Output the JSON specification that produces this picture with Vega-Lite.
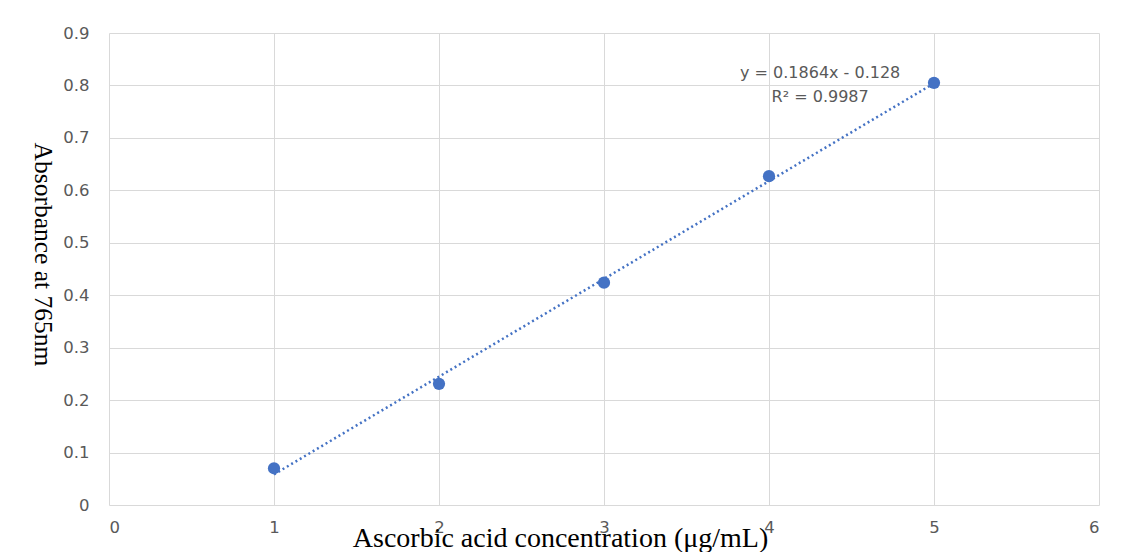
{
  "$schema": "https://vega.github.io/schema/vega-lite/v6.json",
  "width": 990,
  "height": 472,
  "autosize": {"type": "none"},
  "padding": {"left": 109, "top": 33, "right": 32, "bottom": 47},
  "background": "white",
  "config": {
    "view": {"stroke": null},
    "axis": {
      "labelFont": "DejaVu Sans",
      "labelFontSize": 16.5,
      "labelColor": "#595959",
      "gridColor": "#d9d9d9",
      "gridWidth": 1,
      "ticks": false,
      "domain": false,
      "titleFont": "Liberation Serif",
      "titleFontWeight": "normal",
      "titleColor": "#000000"
    }
  },
  "datasets": {
    "points": [
      {"conc": 1, "abs": 0.07},
      {"conc": 2, "abs": 0.231},
      {"conc": 3, "abs": 0.424},
      {"conc": 4, "abs": 0.627},
      {"conc": 5, "abs": 0.805}
    ],
    "trend": [
      {"conc": 1, "abs": 0.0584},
      {"conc": 5, "abs": 0.804}
    ],
    "labels": [
      {"conc": 4.31, "abs": 0.824, "text": "y = 0.1864x - 0.128"},
      {"conc": 4.31, "abs": 0.778, "text": "R² = 0.9987"}
    ]
  },
  "layer": [
    {
      "data": {"name": "trend"},
      "mark": {"type": "line", "color": "#4472C4", "strokeWidth": 2.5, "strokeDash": [2, 3]},
      "encoding": {
        "x": {
          "field": "conc", "type": "quantitative",
          "scale": {"domain": [0, 6], "nice": false},
          "axis": {
            "values": [0, 1, 2, 3, 4, 5, 6],
            "format": "d",
            "title": "Ascorbic acid concentration (μg/mL)",
            "titleFontSize": 28,
            "labelPadding": 14,
            "titleX": 451,
            "titleY": 41,
            "titleBaseline": "alphabetic"
          }
        },
        "y": {
          "field": "abs", "type": "quantitative",
          "scale": {"domain": [0, 0.9], "nice": false},
          "axis": {
            "values": [0, 0.1, 0.2, 0.3, 0.4, 0.5, 0.6, 0.7, 0.8, 0.9],
            "format": ".1~f",
            "title": "Absorbance at 765nm",
            "titleFontSize": 25.5,
            "labelPadding": 20,
            "titleAngle": 90,
            "titleX": -80,
            "titleY": 221
          }
        }
      }
    },
    {
      "data": {"name": "points"},
      "mark": {"type": "point", "filled": true, "opacity": 1, "color": "#4472C4", "size": 150},
      "encoding": {
        "x": {"field": "conc", "type": "quantitative"},
        "y": {"field": "abs", "type": "quantitative"}
      }
    },
    {
      "data": {"name": "labels"},
      "mark": {"type": "text", "font": "DejaVu Sans", "fontSize": 16, "color": "#595959", "align": "center", "baseline": "middle"},
      "encoding": {
        "x": {"field": "conc", "type": "quantitative"},
        "y": {"field": "abs", "type": "quantitative"},
        "text": {"field": "text"}
      }
    }
  ]
}
